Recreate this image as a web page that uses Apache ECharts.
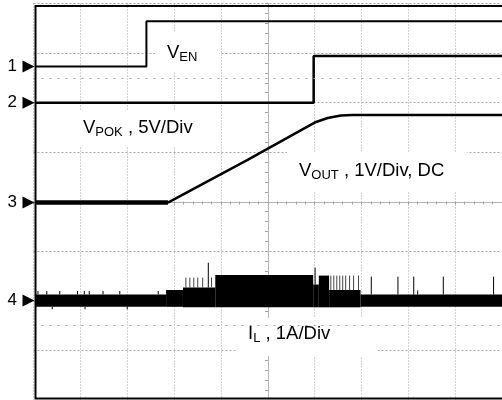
<!DOCTYPE html>
<html><head><meta charset="utf-8">
<script src="https://cdn.jsdelivr.net/npm/echarts@6/dist/echarts.min.js"></script>
<style>html,body{margin:0;padding:0;background:#fff}#c{width:502px;height:400px}</style>
</head><body><div id="c"></div>
<script>
// All values in screen divisions (x: time div, y: vertical div; 0 = centre)
const venX = [-4.96, -2.59, -2.59, 5];
const venY = [2.73, 2.73, 3.64, 3.64];
const vpokX = [-4.96, 0.98, 0.98, 5];
const vpokY = [2.0, 2.0, 2.94, 2.94];
const voutBaseX = [-4.96, -2.13];
const voutBaseY = [-0.016, -0.016];
const voutRampX = [-2.13, -0.44, 0.78, 1.03, 1.28, 1.56, 1.81, 5];
const voutRampY = [-0.016, 0.84, 1.48, 1.61, 1.69, 1.74, 1.75, 1.75];
// inductor current noise envelope: [xStart, xEnd, top, bottom]
const ilBands = [
  [-4.96, -2.17, -1.87, -2.12],
  [-2.17, -1.81, -1.78, -2.12],
  [-1.81, -1.12, -1.73, -2.13],
  [-1.12, 0.97, -1.48, -2.13],
  [0.97, 1.09, -1.67, -2.13],
  [1.09, 1.31, -1.49, -2.13],
  [1.31, 1.98, -1.78, -2.13],
  [1.98, 5.0, -1.87, -2.12]
];
// spikes: [x, from, to]
const ilSpikes = [
  [-4.905, -1.87, -1.80], [-4.716, -1.87, -1.80], [-4.44, -1.87, -1.80], [-4.06, -1.87, -1.80],
  [-3.916, -1.87, -1.80], [-3.81, -1.87, -1.80], [-3.516, -1.87, -1.80], [-3.158, -1.87, -1.80],
  [-2.337, -1.87, -1.80], [-4.6, -2.12, -2.17], [-3.9, -2.12, -2.17], [-3.0, -2.12, -2.17],
  [-1.269, -1.73, -1.23], [1.011, -1.67, -1.33],
  [2.21, -1.87, -1.51], [2.779, -1.87, -1.51], [3.116, -1.87, -1.51], [3.747, -1.87, -1.51],
  [4.82, -1.87, -1.51], [3.2, -1.87, -1.79]
];
const ilStreaks = [
  [-1.747, -1.73, -1.53], [-1.663, -1.73, -1.53], [-1.579, -1.73, -1.53], [-1.495, -1.73, -1.53],
  [-1.389, -1.73, -1.53], [-1.2, -1.73, -1.53],
  [1.347, -1.78, -1.49], [1.41, -1.78, -1.49], [1.474, -1.78, -1.49], [1.537, -1.78, -1.49],
  [1.6, -1.78, -1.49], [1.663, -1.78, -1.49], [1.747, -1.78, -1.49], [1.832, -1.78, -1.49], [1.937, -1.78, -1.49]
];
const cursorRows = [2.5, -2.5];
const markerNames = ['1', '2', '3', '4'];
const markerLevels = [2.73, 2.0, -0.016, -1.99];
const labelTexts = [
  '{m|V}{s|EN}',
  '{m|V}{s|POK}{m| , 5V/Div}',
  '{m|V}{s|OUT}{m| , 1V/Div, DC}',
  '{m|I}{s|L}{m| , 1A/Div}'
];

const FONT = '"Liberation Sans", Arial, sans-serif';
const zip = (xs, ys) => xs.map((x, i) => [x, ys[i]]);
const chart = echarts.init(document.getElementById('c'));

const GRID = '#a6a6a6';
function ax(extra) {
  return Object.assign({
    type: 'value', axisLabel: {show: false},
    axisLine: {show: true, onZero: true, lineStyle: {color: '#b4b4b4', width: 1}},
    minorTick: {show: true, splitNumber: 5, length: 2.5, lineStyle: {color: '#a0a0a0'}},
    splitLine: {show: false}
  }, extra);
}
const line = (data, w) => ({
  type: 'line', data, showSymbol: false, animation: false, z: 3,
  lineStyle: {color: '#000', width: w}, silent: true
});

chart.setOption({
  animation: false,
  grid: {left: 33.5, top: 3.5, width: 475, height: 400},
  xAxis: [
    ax({min: -5, max: 5, interval: 1,
        splitLine: {show: true, lineStyle: {color: GRID, type: [1, 2], width: 1}},
        axisTick: {show: true, inside: false, length: 2.5, lineStyle: {color: '#a0a0a0'}}}),
    ax({min: -5, max: 5, interval: 1, axisTick: {show: true, inside: true, length: 2.5, lineStyle: {color: '#a0a0a0'}}})
  ],
  yAxis: [
    ax({min: -4, max: 4, interval: 1,
        splitLine: {show: true, lineStyle: {color: GRID, type: [2, 2], width: 1}},
        axisTick: {show: true, inside: false, length: 2.5, lineStyle: {color: '#a0a0a0'}}}),
    ax({min: -4, max: 4, interval: 1, axisTick: {show: true, inside: true, length: 2.5, lineStyle: {color: '#a0a0a0'}}})
  ],
  series: [
    {type: 'line', data: [[-5, null]], z: 0, silent: true, showSymbol: false,
     markLine: {silent: true, symbol: ['none', 'none'], label: {show: false}, animation: false,
       lineStyle: {color: '#a0a0a0', type: [2, 6], width: 1},
       data: cursorRows.map(v => ({yAxis: v}))}},
    line(zip(venX, venY), 2),
    line(zip(vpokX, vpokY), 2.5),
    line(zip(voutBaseX, voutBaseY), 4.5),
    line(zip(voutRampX, voutRampY), 2.5),
    {type: 'custom', data: ilBands, z: 3, silent: true, encode: {x: [0, 1], y: [2, 3]},
     renderItem: (p, api) => {
       const a = api.coord([api.value(0), api.value(2)]);
       const b = api.coord([api.value(1), api.value(3)]);
       return {type: 'rect', shape: {x: a[0], y: a[1], width: b[0] - a[0], height: b[1] - a[1]}, style: {fill: '#000'}};
     }},
    {type: 'custom', data: ilSpikes, z: 3, silent: true, encode: {x: 0, y: [1, 2]},
     renderItem: (p, api) => {
       const a = api.coord([api.value(0), api.value(1)]);
       const b = api.coord([api.value(0), api.value(2)]);
       return {type: 'line', shape: {x1: a[0], y1: a[1], x2: b[0], y2: b[1]}, style: {stroke: '#000', lineWidth: 1}};
     }},
    {type: 'custom', data: ilStreaks, z: 3, silent: true, encode: {x: 0, y: [1, 2]},
     renderItem: (p, api) => {
       const a = api.coord([api.value(0), api.value(1)]);
       const b = api.coord([api.value(0), api.value(2)]);
       return {type: 'line', shape: {x1: a[0], y1: a[1], x2: b[0], y2: b[1]}, style: {stroke: '#444', lineWidth: 1}};
     }}
  ]
});

const rich = {
  m: {fontSize: 18.5, fontFamily: FONT, fill: '#000', lineHeight: 22},
  s: {fontSize: 13, fontFamily: FONT, fill: '#000', lineHeight: 16, verticalAlign: 'bottom'}
};
const boxes = [[155, 33, 64, 38], [71, 110, 150, 36], [287, 152, 180, 40], [237, 318, 141, 38]];
const textPos = [[167, 53], [83, 128], [299, 171], [248, 334]];
const els = [];
labelTexts.forEach((t, i) => {
  const b = boxes[i];
  els.push({type: 'rect', z: 1, silent: true, shape: {x: b[0], y: b[1], width: b[2], height: b[3]}, style: {fill: '#fff'}});
  els.push({type: 'text', z: 5, silent: true, x: textPos[i][0], y: textPos[i][1],
    style: {text: t, rich, align: 'left', verticalAlign: 'middle'}});
});
markerLevels.forEach((lv, i) => {
  const py = chart.convertToPixel({gridIndex: 0}, [0, lv])[1];
  els.push({type: 'polygon', z: 6, silent: true, shape: {points: [[22.5, py - 6], [34.5, py], [22.5, py + 6]]}, style: {fill: '#000'}});
  els.push({type: 'text', z: 6, silent: true, x: 17, y: py,
    style: {text: markerNames[i], fontSize: 17, fontFamily: FONT, fill: '#000', align: 'right', verticalAlign: 'middle'}});
});
els.push({type: 'rect', z: 10, silent: true, shape: {x: 35.5, y: 6, width: 600, height: 392.5},
  style: {fill: 'none', stroke: '#000', lineWidth: 2}});
chart.setOption({graphic: {elements: els}});
</script></body></html>
